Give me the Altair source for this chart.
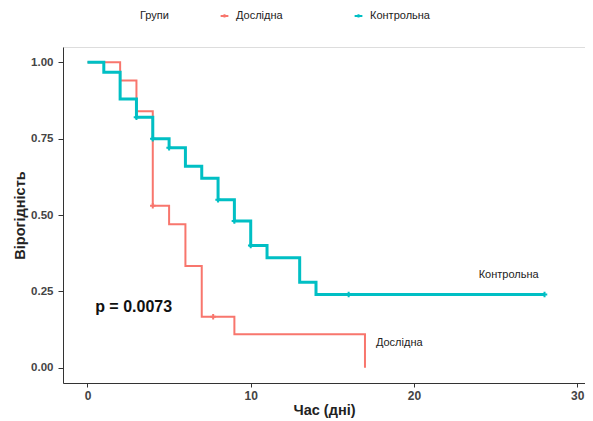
import altair as alt
import pandas as pd

groups = ["Дослідна", "Контрольна"]
colors = ["#F8766D", "#00BFC4"]

# Kaplan-Meier step curves
exp_time = [0, 2, 3, 4, 5, 6, 7, 9, 17]
exp_surv = [1.0, 0.94, 0.84, 0.53, 0.47, 0.333, 0.167, 0.11, 0.0]
ctl_time = [0, 1, 2, 3, 4, 5, 6, 7, 8, 9, 10, 11, 13, 14, 28]
ctl_surv = [1.0, 0.967, 0.88, 0.82, 0.75, 0.72, 0.66, 0.62, 0.55, 0.48, 0.40, 0.36, 0.28, 0.24, 0.24]

# censor marks
exp_cens_time = [4, 7.7]
exp_cens_surv = [0.53, 0.167]
ctl_cens_time = [3, 4, 5, 8, 9, 10, 16, 28]
ctl_cens_surv = [0.82, 0.75, 0.72, 0.55, 0.48, 0.40, 0.24, 0.24]

label_x = [19.1, 25.8]
label_y = [0.082, 0.304]
p_text = "p = 0.0073"

curves = pd.DataFrame(
    [{"t": t, "s": s, "g": groups[0], "o": i} for i, (t, s) in enumerate(zip(exp_time, exp_surv))]
    + [{"t": t, "s": s, "g": groups[1], "o": i} for i, (t, s) in enumerate(zip(ctl_time, ctl_surv))]
)
cens = pd.DataFrame(
    [{"t": t, "s": s, "g": groups[0]} for t, s in zip(exp_cens_time, exp_cens_surv)]
    + [{"t": t, "s": s, "g": groups[1]} for t, s in zip(ctl_cens_time, ctl_cens_surv)]
)
labels = pd.DataFrame({"t": label_x, "s": label_y, "g": groups})

xs = alt.Scale(domain=[-1.5, 30.48], nice=False, zero=False)
ys = alt.Scale(domain=[-0.05, 1.05], nice=False, zero=False)
cs = alt.Scale(domain=groups, range=colors)

plus = "M-1,0L1,0M0,-1L0,1"
legsym = "M-1,0L1,0M0,-0.45L0,0.45"

xaxis = alt.Axis(title="Час (дні)", values=[0, 10, 20, 30], grid=False, tickSize=4,
                 labelFontSize=12, labelColor="#444", labelFontWeight="bold",
                 titleFontSize=14.5, titleFontWeight="bold", titleColor="#222",
                 domainColor="#333", tickColor="#333", labelPadding=3, titlePadding=2)
yaxis = alt.Axis(title="Вірогідність", values=[0, 0.25, 0.5, 0.75, 1.0], format=".2f", grid=False,
                 tickSize=5, labelFontSize=11.5, labelColor="#444", labelFontWeight="bold",
                 titleFontSize=14.5, titleFontWeight="bold", titleColor="#222",
                 domainColor="#333", tickColor="#333", labelPadding=5, titlePadding=3)

legend = alt.Legend(title="Групи", orient="none", legendX=77, legendY=-37, direction="horizontal",
                    titleOrient="left", titleFontSize=11, titleFontWeight="normal", titleColor="#222",
                    labelFontSize=11, labelColor="#222", symbolType=legsym, symbolStrokeWidth=2,
                    symbolSize=60, columnPadding=67, titlePadding=50, labelOffset=6)

red_line = alt.Chart(curves[curves.g == groups[0]]).mark_line(
    interpolate="step-after", strokeWidth=2
).encode(
    x=alt.X("t:Q", scale=xs, axis=xaxis),
    y=alt.Y("s:Q", scale=ys, axis=yaxis),
    color=alt.Color("g:N", scale=cs, legend=legend),
    order="o:Q",
)
teal_line = alt.Chart(curves[curves.g == groups[1]]).mark_line(
    interpolate="step-after", strokeWidth=3
).encode(
    x=alt.X("t:Q", scale=xs),
    y=alt.Y("s:Q", scale=ys),
    color=alt.Color("g:N", scale=cs, legend=legend),
    order="o:Q",
)
marks = alt.Chart(cens).mark_point(shape=plus, filled=False, size=30, strokeWidth=2, opacity=1).encode(
    x=alt.X("t:Q", scale=xs),
    y=alt.Y("s:Q", scale=ys),
    color=alt.Color("g:N", scale=cs, legend=legend),
)
txt = alt.Chart(labels).mark_text(fontSize=11, color="#222", align="center", baseline="middle").encode(
    x=alt.X("t:Q", scale=xs),
    y=alt.Y("s:Q", scale=ys),
    text="g:N",
)
ptxt = alt.Chart(pd.DataFrame({"t": [0.47], "s": [0.2], "txt": [p_text]})).mark_text(
    fontSize=16, fontWeight="bold", color="#111", align="left", baseline="middle"
).encode(
    x=alt.X("t:Q", scale=xs),
    y=alt.Y("s:Q", scale=ys),
    text="txt:N",
)

chart = alt.layer(red_line, teal_line, marks, txt, ptxt).properties(
    width=522, height=336,
    autosize=alt.AutoSizeParams(type="none"),
    padding={"left": 55, "top": 39, "right": 0, "bottom": 37},
).configure_view(stroke=None).configure(font="Liberation Sans")

chart.save("out.html", embed_options={"renderer": "svg", "actions": False})
